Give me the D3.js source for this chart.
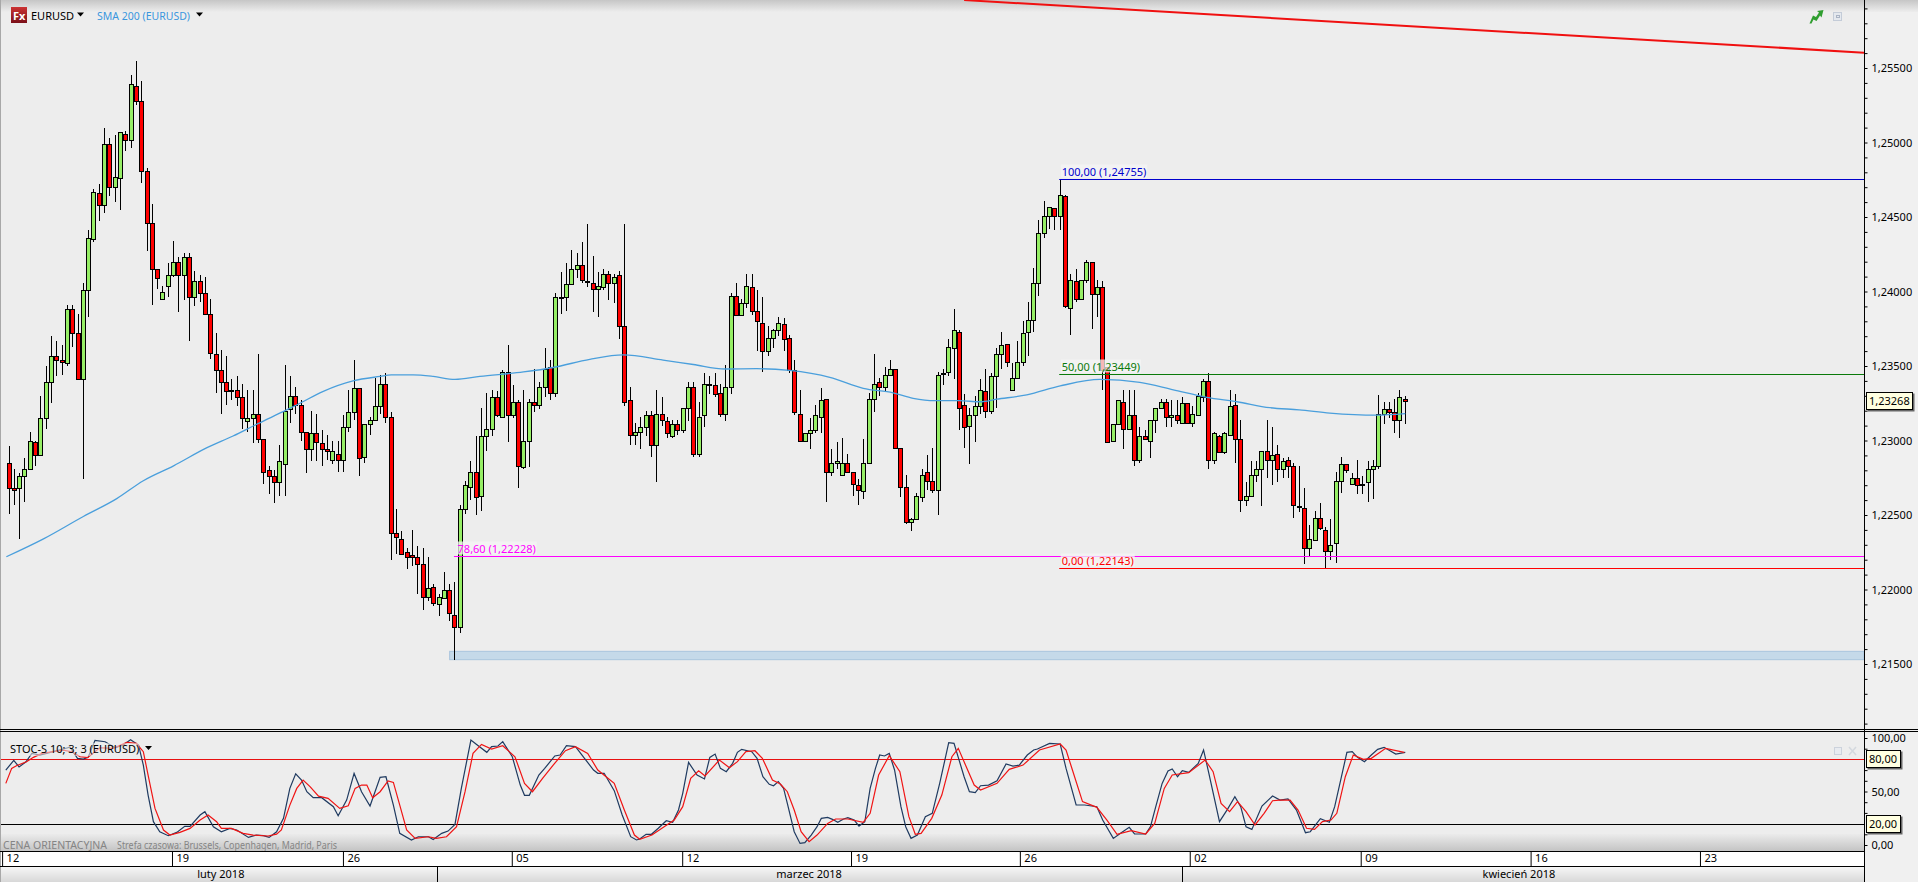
<!DOCTYPE html>
<html><head><meta charset="utf-8">
<script src="https://cdn.jsdelivr.net/npm/d3@7/dist/d3.min.js"></script>
<style>
html,body{margin:0;padding:0;background:#ededed;overflow:hidden}
svg{display:block}
text{font-family:"Noto Sans",Tahoma,sans-serif;font-size:11px}
</style></head><body>
<script>
// Prices are in units of 0.0001 (12150 = 1,21500)
const opens=[12285,12268,12268,12276,12281,12299,12290,12315,12339,12357,12354,12352,12388,12372,12341,12401,12435,12466,12458,12499,12470,12476,12506,12502,12538,12528,12481,12446,12415,12395,12404,12411,12420,12411,12423,12396,12407,12399,12385,12358,12347,12339,12334,12334,12329,12313,12315,12318,12301,12280,12276,12272,12284,12321,12330,12324,12306,12294,12305,12298,12294,12287,12291,12287,12309,12319,12335,12289,12311,12314,12323,12338,12316,12238,12234,12225,12223,12222,12217,12195,12202,12190,12194,12200,12183,12175,12254,12269,12279,12263,12303,12308,12329,12316,12346,12317,12326,12282,12300,12326,12324,12336,12349,12332,12396,12396,12405,12415,12418,12407,12406,12402,12403,12412,12406,12411,12377,12327,12304,12306,12309,12317,12297,12318,12313,12303,12311,12307,12322,12336,12291,12317,12338,12337,12332,12318,12336,12397,12384,12392,12403,12387,12379,12360,12369,12374,12378,12369,12347,12318,12300,12305,12307,12316,12328,12279,12285,12277,12285,12279,12270,12266,12285,12328,12339,12336,12344,12348,12295,12269,12245,12247,12262,12279,12273,12267,12345,12346,12362,12373,12324,12310,12317,12323,12333,12320,12343,12358,12365,12334,12342,12353,12373,12381,12406,12439,12451,12456,12451,12464,12389,12407,12395,12408,12420,12398,12403,12349,12300,12311,12326,12308,12317,12287,12303,12300,12314,12322,12326,12316,12317,12312,12325,12312,12317,12329,12340,12287,12303,12292,12304,12324,12301,12260,12263,12277,12281,12293,12287,12291,12281,12287,12283,12256,12255,12228,12233,12248,12240,12226,12231,12273,12284,12271,12275,12270,12272,12281,12283,12317.5,12321,12319,12313.5,12328];
const highs=[12296,12281,12278,12288,12306,12300,12330,12350,12370,12367,12364,12391,12391,12385,12406,12441,12469,12472,12510,12503,12505,12507,12508,12545,12555,12541,12483,12459,12415,12404,12419,12434,12423,12426,12426,12414,12411,12410,12395,12372,12361,12357,12341,12343,12338,12334,12334,12358,12301,12283,12280,12297,12351,12343,12336,12327,12306,12320,12318,12307,12304,12300,12300,12317,12334,12354,12335,12311,12316,12342,12344,12345,12319,12254,12239,12228,12240,12229,12228,12222,12204,12197,12212,12204,12205,12257,12273,12286,12303,12322,12332,12334,12333,12347,12364,12337,12327,12334,12328,12348,12339,12362,12354,12399,12413,12419,12428,12426,12433,12445,12424,12413,12415,12414,12412,12414,12445,12336,12312,12316,12320,12320,12334,12329,12316,12314,12314,12322,12339,12339,12326,12345,12343,12345,12338,12351,12399,12406,12395,12412,12412,12401,12396,12377,12375,12383,12382,12371,12354,12334,12305,12315,12324,12335,12328,12294,12299,12302,12291,12279,12274,12301,12332,12358,12342,12349,12354,12348,12295,12277,12248,12265,12281,12290,12295,12346,12348,12368,12388,12374,12331,12322,12330,12341,12348,12345,12362,12373,12365,12352,12367,12380,12393,12416,12448,12461,12457,12456,12475,12465,12412,12415,12408,12421,12420,12408,12407,12349,12311,12327,12334,12334,12334,12309,12307,12314,12322,12328,12328,12327,12327,12329,12325,12323,12332,12341,12345,12306,12304,12306,12334,12331,12314,12272,12286,12286,12293,12314,12309,12297,12288,12289,12285,12283,12268,12243,12253,12258,12242,12247,12279,12289,12284,12278,12287,12276,12286,12287,12330.5,12326,12326,12328,12334,12330];
const lows=[12251,12257,12234,12259,12280,12283,12290,12308,12325,12343,12344,12350,12363,12341,12274,12383,12433,12447,12453,12464,12460,12455,12494,12496,12525,12473,12427,12391,12402,12394,12396,12410,12386,12394,12367,12390,12393,12385,12355,12332,12318,12324,12327,12323,12308,12306,12298,12298,12271,12264,12258,12263,12263,12312,12318,12300,12278,12286,12286,12283,12287,12284,12279,12279,12306,12314,12276,12285,12304,12314,12318,12312,12220,12224,12224,12214,12216,12197,12186,12192,12189,12182,12194,12179,12153,12171,12251,12260,12250,12253,12293,12303,12316,12316,12299,12315,12268,12281,12282,12319,12321,12329,12327,12329,12385,12387,12405,12409,12406,12403,12386,12383,12401,12394,12392,12368,12323,12297,12297,12294,12303,12289,12272,12310,12302,12302,12304,12305,12313,12289,12289,12309,12331,12329,12316,12313,12331,12384,12384,12389,12384,12360,12346,12357,12362,12370,12360,12345,12317,12299,12299,12294,12305,12305,12259,12276,12281,12277,12278,12263,12257,12261,12284,12319,12330,12333,12344,12295,12262,12244,12239,12247,12259,12267,12265,12250,12337,12343,12341,12307,12295,12284,12299,12318,12315,12318,12322,12348,12349,12334,12341,12350,12357,12373,12397,12436,12442,12441,12441,12389,12371,12393,12394,12406,12375,12383,12334,12299,12299,12311,12294,12308,12283,12285,12301,12288,12305,12321,12309,12309,12311,12311,12312,12309,12317,12326,12281,12284,12292,12291,12303,12285,12252,12256,12263,12272,12256,12275,12270,12272,12275,12275,12248,12252,12217,12222,12233,12240,12214,12220,12218,12265,12278,12271,12264,12264,12259,12261,12281,12311,12315,12305,12302,12311];
const closes=[12268,12267,12276,12281,12300,12290,12315,12339,12357,12354,12353,12388,12372,12341,12401,12436,12467,12458,12499,12470,12477,12507,12502,12539,12528,12481,12446,12415,12409,12400,12411,12420,12411,12423,12396,12407,12399,12385,12359,12347,12339,12333,12333,12329,12315,12315,12318,12301,12279,12276,12272,12286,12320,12330,12324,12306,12294,12305,12299,12294,12293,12293,12287,12309,12319,12335,12288,12311,12314,12323,12338,12316,12238,12235,12224,12222,12222,12217,12195,12201,12191,12195,12200,12184,12175,12254,12270,12279,12262,12303,12308,12329,12317,12346,12317,12326,12283,12300,12326,12324,12336,12348,12332,12396,12396,12405,12415,12418,12408,12407,12402,12404,12412,12406,12410,12377,12326,12304,12306,12309,12317,12297,12318,12314,12305,12311,12307,12322,12336,12291,12316,12338,12338,12331,12318,12336,12397,12384,12392,12404,12387,12380,12360,12369,12374,12379,12368,12347,12319,12300,12305,12307,12317,12327,12279,12285,12286,12285,12279,12271,12267,12285,12328,12338,12336,12344,12348,12295,12269,12245,12247,12263,12277,12273,12267,12344,12345,12363,12374,12322,12309,12317,12323,12334,12320,12343,12358,12364,12353,12342,12353,12372,12381,12406,12439,12451,12457,12451,12465,12390,12408,12395,12408,12420,12398,12403,12347,12299,12311,12327,12308,12317,12287,12303,12301,12314,12322,12326,12316,12317,12314,12325,12312,12318,12330,12340,12287,12305,12292,12305,12323,12301,12260,12263,12277,12281,12293,12287,12290,12281,12286,12283,12257,12256,12228,12234,12248,12241,12226,12230,12273,12284,12280,12275,12270,12271,12281,12283,12317.5,12321,12319,12313.5,12329,12326.8];

const smaIndex=[-0.5,6.5,14,20.3,25.3,31,37.2,42.2,47,52.3,54.8,59.2,64.8,69.9,72,76.1,79.9,84,88.7,96.9,102.5,109.4,115.7,123.2,128.9,134.9,140.8,147,154.6,160.9,166.5,170.3,174.4,179,182.9,186,191.7,198,205.5,213,219.3,225.6,231.3,237.5,243,248.8,257.6,263];
const smaValues=[12222,12234,12249,12261,12273,12283,12295,12303,12311.5,12320.5,12325,12333,12340,12343,12344,12344,12343,12341,12343,12346,12349,12354.5,12357.4,12354,12351,12348,12348.2,12347,12342.4,12335,12332,12328.3,12326.7,12326.7,12326,12327.7,12330.6,12336.6,12341,12339,12334,12329,12326,12322,12320.6,12318.4,12317,12318];

const kIndex=[-0.6,0.9,1.9,3.2,4.3,5.8,7.1,8.3,10.2,11.5,12.9,14,14.9,16.2,18.1,20,21.5,22.9,24.4,25.3,26.2,27.2,28.4,30,31.6,33.1,34.1,36,36.9,38.5,40,41.6,42.9,45.1,46.6,47.9,49,50.4,51.7,52.9,54,55.1,56.1,57.3,58.9,61.1,62,63.6,65,66.4,68,69.9,71,72.4,73.6,75.8,77.1,79,79.9,81.5,82.7,84,85.2,87,88.2,90,90.9,92.1,93,94.8,96.3,97.1,98,99.8,100.9,102.8,103.8,105,106.7,108.4,110.1,110.9,112.1,114,115.5,117.1,118.2,118.8,120,121,122.3,123.8,125,126.1,126.9,128,129.6,131,132,133,134,135.1,136.3,137.2,138,139.9,140.9,142,143.2,144,144.9,145.9,146.6,147.9,149,149.9,151.1,152.2,153,154.2,155.1,156.1,157.2,158,159.2,160.1,161.2,162.2,163.2,164,164.9,165.8,166.8,168,168.9,169.9,171.1,172.6,173.9,175.3,177,178,179.9,180.9,182,183,184.5,186.1,187.8,189.1,190.3,191.8,193,193.7,196,198,199.1,201,202.6,204.9,206,208,209.5,211,212,214.1,215,216,217.2,218.3,219.1,220.1,221,222.2,224,225,226,228,229.5,230.9,232,233,234.1,236,238,239.4,240.9,242.5,244.2,245.1,247,248.7,249.7,250.9,252,253,254,255.3,256.6,257.8,259,261.2,263];
const kValues=[70,79.1,72.9,77.8,85.6,84.1,85.6,87.2,89.7,91.5,81,80.3,81.9,97.8,96.5,90.9,93.4,98.4,93.4,74.7,46.7,21.8,12.4,8.7,11.8,17.4,17.4,28,31.1,17.1,12.4,15.5,14,7.1,9.3,8.7,7.1,12.4,24.9,52.9,66.6,60.7,49.8,44.2,44.2,35.8,27.4,42,66.9,49.8,36.4,63.2,63.8,37.3,10.9,4.6,7.7,7.7,5.2,10.9,13,19.3,52.9,98.1,93.4,86.6,91.9,92.5,96.6,82.5,56,46.4,46.4,65.4,71.6,83.2,84.1,92.8,91.9,81,70.1,67,67,50.8,28,7.8,4.7,5.6,10,10,15.6,22.7,21.2,32.7,48.3,77.2,65.4,61.7,81.9,85,71.6,68.5,76.3,86.6,89.4,87.2,81,63.8,56.7,55.4,59.2,52.9,38.9,12.4,1.5,2.2,9.3,17.1,24.9,25.8,24,21.2,24.3,25.5,23.3,17.7,21.8,52.9,71.6,84.1,83.2,85.6,70.1,35.8,17.1,6.2,9.3,26.5,29.6,57.6,95.6,95,63.8,49.8,48.9,55.4,56,60.1,75.7,73.8,74.7,84.1,88.8,89.7,95,94.4,71.6,37.4,37.4,35.8,23.3,6.2,11.5,16.5,10.3,10.3,17.1,35.8,57.6,69.1,71,63.8,69.4,67.9,76.3,88.8,67,21.8,33.3,45.1,35.8,17.1,14.6,36.4,45.8,42,43,32.7,11.5,12.4,24.6,21.2,35.8,62.3,86.6,87.2,81.9,77.9,84.1,89.4,91.3,85,86.6];

const dIndex=[-0.6,0.5,1.4,3.3,4.6,6.2,8.3,10.2,11.8,13.4,14.8,17.1,19.6,22.2,24,25.3,26.2,27.5,29.1,30.3,32.2,34.1,36,37.5,39.1,40,41.9,44.1,46,48.8,50.4,51.3,52.9,54.2,55.4,56.7,58.3,60.1,62.3,63.9,65.2,66.4,67.4,68.5,69.9,71.4,72.4,73.6,74.9,76.5,79,80.5,82.4,84.3,85.9,87.4,89,90.9,93,95.3,97.1,98.6,100.5,102.5,104.8,106.7,109,110.9,114,115.9,117.8,118.8,121.1,123.4,125.3,126.9,128.4,129.9,131.1,133.8,135.7,137.2,138.8,140.5,141.9,143.8,145.3,146.6,147.9,149.2,150.7,152.2,154.2,155.7,158,160.9,162.2,163.8,165.8,167.8,169.5,170.7,171.8,173.8,175.7,177.6,178.8,180.3,181.8,183,186.1,188.4,191,194.1,198,199.1,200.3,202.2,204.9,206.8,208.7,211.4,214.1,215.8,217.6,219.1,222.2,225.3,226.8,228.3,229.9,231.4,233,234.7,236.4,238,239.3,241.3,242.8,244.4,245.9,247.4,249,250.1,251.7,253.2,255.1,256.6,259.3,262.8];
const dValues=[57.6,71.6,74.1,77.8,81.9,85.6,87.2,88.7,87.2,82.5,81.6,90.9,90.3,95.9,95,87.2,65.4,34.2,14,9.3,11.8,15.5,23.3,28,21.8,15.5,15.5,10.9,9.3,8.4,10.2,14,37.3,52.9,60.7,54.5,45.7,43.6,34.2,36.7,52.9,56,56,44.2,49.8,59.8,58.5,37.3,14,6.2,7.7,6.2,7.7,17.1,49.8,85.6,94,89.7,92.8,82.5,57.6,49.8,62.3,74.7,88.1,91.9,85.6,70.1,57.6,32.7,9.3,5.3,9.3,17.1,23.3,35.8,62.3,69.4,64.5,79.4,72.3,77.9,87.2,88.1,81,60.7,57,49.8,32.7,12.4,3.1,9.3,20.2,24.3,24.3,21.2,29.6,65.4,83.5,68.5,26.5,10,10.9,24.9,46.7,82.5,90.3,73.2,56,51.4,57.6,70.7,74.7,88.8,94.4,88.8,70.1,40.5,35.2,23.3,10,13.4,10.3,20.2,52.9,65.4,67.6,79.4,68.5,38.9,31.1,40.5,31.1,18.7,29.6,41.4,42,42,32.7,15.6,14.6,21.8,23.3,29.6,63.8,84.1,80,81,90.3,86.6];

const priceMajor=[12150,12200,12250,12300,12350,12400,12450,12500,12550];
const priceMinor=[12110,12120,12130,12140,12160,12170,12180,12190,12210,12220,12230,12240,12260,12270,12280,12290,12310,12320,12330,12340,12360,12370,12380,12390,12410,12420,12430,12440,12460,12470,12480,12490,12510,12520,12530,12540,12560,12570,12580,12590];
const weekIndex=[-1.3,30.7,62.9,94.7,126.8,158.6,190.4,222.4,254.6,286.6,318.5];
const weekLabels=["12","19","26","05","12","19","26","02","09","16","23"];
const monthBreaks=[80.7,220.9];
const monthCenters=[39.9,150.7,284.4];
const monthLabels=["luty 2018","marzec 2018","kwiecień 2018"];
const stochMajor=[100,50,0];
const stochMinor=[90,70,60,40,30,10];

const fibLevels=[
 {label:"100,00 (1,24755)",price:12475.5,color:"#0000cc",from:198,lx:198.1},
 {label:"50,00 (1,23449)",price:12344.9,color:"#0a7a0a",from:198,lx:198.1},
 {label:"78,60 (1,22228)",price:12222.8,color:"#ff00ff",from:84,lx:84.3},
 {label:"0,00 (1,22143)",price:12214.3,color:"#ff0000",from:198,lx:198.1}];
const trendIdx=[179.9,349.4], trendPrice=[12595.6,12560.3];
const zoneIdx=83, zoneTop=12158.5, zoneBottom=12152.9;
const lastPrice=12326.8;

const W=1918,H=882,axisX=1864,paneBottom=729;
const x=d3.scaleLinear().domain([0,263]).range([9,1405.3]);
const y=d3.scaleLinear().domain([12150,12550]).range([664,68]);
const s=d3.scaleLinear().domain([0,100]).range([845,738]);
const fmtP=v=>(v/1e4).toFixed(5).replace(".",",");
const fmtS=v=>v.toFixed(2).replace(".",",");

const svg=d3.select("body").append("svg").attr("width",W).attr("height",H);
const defs=svg.append("defs");
function grad(id,stops){const g=defs.append("linearGradient").attr("id",id).attr("x1",0).attr("y1",0).attr("x2",0).attr("y2",1);
 stops.forEach(a=>g.append("stop").attr("offset",a[0]).attr("stop-color",a[1]));}
grad("gTop",[[0,"#c6c6c6"],[1,"#ededed"]]);
grad("gBot",[[0,"#ebebeb"],[1,"#c4c4c4"]]);
grad("gMonth",[[0,"#f6f6f6"],[1,"#d8d8d8"]]);
grad("gFx",[[0,"#c33"],[1,"#7a0f18"]]);
defs.append("clipPath").attr("id","cMain").append("rect").attr("width",axisX).attr("height",paneBottom);
const shadow=defs.append("filter").attr("id","sh").attr("x","-10%").attr("y","-10%").attr("width","130%").attr("height","140%");
shadow.append("feDropShadow").attr("dx",1.5).attr("dy",1.5).attr("stdDeviation",0.6).attr("flood-color","#666");

svg.append("rect").attr("width",W).attr("height",H).attr("fill","#ededed");
svg.append("rect").attr("width",W).attr("height",12).attr("fill","url(#gTop)");
svg.append("rect").attr("x",axisX).attr("width",W-axisX).attr("y",12).attr("height",H-12).attr("fill","#f0f0f0");
svg.append("rect").attr("y",834).attr("width",axisX).attr("height",17).attr("fill","url(#gBot)");
svg.append("rect").attr("x",0).attr("width",1).attr("height",H).attr("fill","#a8a8a8");

const main=svg.append("g").attr("clip-path","url(#cMain)");
// zone
main.append("rect").attr("x",x(zoneIdx)).attr("y",y(zoneTop)).attr("width",axisX-x(zoneIdx)).attr("height",y(zoneBottom)-y(zoneTop))
 .attr("fill","#c5d9e9").attr("stroke","#a9c5de").attr("stroke-width",1);
// trend
main.append("line").attr("x1",x(trendIdx[0])).attr("y1",y(trendPrice[0])).attr("x2",x(trendIdx[1])).attr("y2",y(trendPrice[1]))
 .attr("stroke","#f01010").attr("stroke-width",2);
// candles
const candles=d3.range(opens.length);
const cx=i=>Math.floor(x(i))+0.5;
main.append("g").selectAll("line").data(candles).join("line")
 .attr("x1",cx).attr("x2",cx).attr("y1",i=>Math.round(y(highs[i]))).attr("y2",i=>Math.round(y(lows[i])))
 .attr("stroke","#000").attr("stroke-width",1);
main.append("g").selectAll("rect").data(candles).join("rect")
 .attr("x",i=>cx(i)-2).attr("width",4)
 .attr("y",i=>Math.round(y(Math.max(opens[i],closes[i])))+0.5)
 .attr("height",i=>Math.max(1,Math.round(y(Math.min(opens[i],closes[i])))-Math.round(y(Math.max(opens[i],closes[i])))))
 .attr("fill",i=>closes[i]>=opens[i]?"#96ee66":"#ff0000")
 .attr("stroke","#000").attr("stroke-width",1);
// SMA
main.append("path").datum(smaIndex).attr("fill","none").attr("stroke","#4a9fdc").attr("stroke-width",1.3)
 .attr("d",d3.line().x(d=>x(d)).y((d,i)=>y(smaValues[i])).curve(d3.curveMonotoneX));
// fib lines
const fibLabels=svg.append("g");
fibLevels.forEach(f=>{
 const yy=Math.round(y(f.price))+0.5;
 main.append("line").attr("x1",x(f.from)-1).attr("x2",axisX).attr("y1",yy).attr("y2",yy).attr("stroke",f.color).attr("stroke-width",1);
 const bg=fibLabels.append("rect");
 const t=fibLabels.append("text").attr("x",x(f.lx)+1).attr("y",yy-4).attr("fill",f.color).text(f.label);
 const b=t.node().getBBox();
 bg.attr("x",b.x-1).attr("y",yy-15).attr("width",b.width+2).attr("height",13).attr("fill","#f4f4f4").attr("fill-opacity",.75);
});

// stochastic pane
const sg=svg.append("g");
const sLine=(yy,c)=>sg.append("line").attr("x1",1).attr("x2",axisX).attr("y1",Math.round(s(yy))+.5).attr("y2",Math.round(s(yy))+.5).attr("stroke",c).attr("stroke-width",1);
sLine(80,"#e81010");sLine(20,"#000");
sg.append("path").datum(kIndex).attr("fill","none").attr("stroke","#1f3a60").attr("stroke-width",1.2)
 .attr("d",d3.line().x(d=>x(d)).y((d,i)=>s(kValues[i])));
sg.append("path").datum(dIndex).attr("fill","none").attr("stroke","#f01414").attr("stroke-width",1.2)
 .attr("d",d3.line().x(d=>x(d)).y((d,i)=>s(dValues[i])));

// separators
svg.append("line").attr("x1",0).attr("x2",W).attr("y1",729.5).attr("y2",729.5).attr("stroke","#000");
svg.append("line").attr("x1",0).attr("x2",W).attr("y1",731.5).attr("y2",731.5).attr("stroke","#000");

// Legends
const icon=svg.append("g");
icon.append("rect").attr("x",11).attr("y",7).attr("width",16).attr("height",16).attr("fill","url(#gFx)");
icon.append("text").attr("x",13).attr("y",20).attr("fill","#fff").attr("font-weight","bold").text("Fx");
svg.append("text").attr("x",31).attr("y",20).attr("fill","#000").text("EURUSD");
const tri=(tx,ty)=>svg.append("path").attr("d",`M${tx-3},${ty-2}h7l-3.5,4z`).attr("fill","#000");
tri(80,14.5);
svg.append("text").attr("x",97).attr("y",20).attr("fill","#3a96dd").attr("textLength",93).attr("lengthAdjust","spacingAndGlyphs").text("SMA 200 (EURUSD)");
tri(199,14.5);
const st=svg.append("text").attr("x",10).attr("y",753).attr("fill","#000").text("STOC-S 10; 3; 3 (EURUSD)");
const stb=st.node().getBBox();
svg.insert("rect",function(){return st.node()}).attr("x",stb.x).attr("y",743).attr("width",stb.width).attr("height",13).attr("fill","#ededed").attr("fill-opacity",.55);
tri(148,748);
svg.append("text").attr("x",3).attr("y",849).attr("fill","#858585").attr("textLength",104).attr("lengthAdjust","spacingAndGlyphs").text("CENA ORIENTACYJNA");
svg.append("text").attr("x",117).attr("y",849).attr("fill","#858585").attr("textLength",220).attr("lengthAdjust","spacingAndGlyphs").text("Strefa czasowa: Brussels, Copenhagen, Madrid, Paris");

// top-right & pane icons
svg.append("path").attr("d","M1809.5,23.5l3.5,-8l3,1.5l3,-4.5l-2,-1.5l6.5,-1l-2,7.5l-1.5,-2l-3.5,5.5l-3,-1.5l-2,4z").attr("fill","#2f9e2f");
svg.append("rect").attr("x",1833.5).attr("y",12.5).attr("width",8).attr("height",8).attr("fill","#e4e8ee").attr("stroke","#c4ccd8");
svg.append("rect").attr("x",1836.5).attr("y",15.5).attr("width",3).attr("height",2).attr("fill","none").attr("stroke","#aab4c4");
svg.append("rect").attr("x",1834.5).attr("y",747.5).attr("width",7).attr("height",7).attr("fill","#e8ebf0").attr("stroke","#ccd2dc");
svg.append("path").attr("d","M1849,747l7,8M1856,747l-7,8").attr("stroke","#d4d8de").attr("stroke-width",1.5);

// Price axis
const ax=svg.append("g").attr("transform",`translate(${axisX+.5},0)`)
 .call(d3.axisRight(y).tickValues(priceMajor.concat(priceMinor)).tickSize(3).tickPadding(4)
  .tickFormat(v=>priceMajor.includes(v)?fmtP(v):""));
ax.select(".domain").remove();
ax.selectAll("line").attr("stroke","#000");
ax.selectAll("text").attr("fill","#000").attr("font-family",null).attr("font-size",null);
ax.selectAll(".tick").filter(v=>y(v)>725).remove();
// stochastic axis
const as=svg.append("g").attr("transform",`translate(${axisX+.5},0)`)
 .call(d3.axisRight(s).tickValues(stochMajor.concat(stochMinor)).tickSize(3).tickPadding(4)
  .tickFormat(v=>stochMajor.includes(v)?fmtS(v):""));
as.select(".domain").remove();
as.selectAll("line").attr("stroke","#000");
as.selectAll("text").attr("fill","#000").attr("font-family",null).attr("font-size",null);
svg.append("line").attr("x1",axisX+.5).attr("x2",axisX+.5).attr("y1",0).attr("y2",H).attr("stroke","#000");

// Date axis
svg.append("rect").attr("x",1).attr("y",851).attr("width",axisX-1).attr("height",15).attr("fill","#fff");
svg.append("rect").attr("x",1).attr("y",867).attr("width",axisX-1).attr("height",15).attr("fill","url(#gMonth)");
const ad=svg.append("g").attr("transform","translate(0,851)")
 .call(d3.axisBottom(x).tickValues(weekIndex).tickSize(15).tickPadding(0).tickFormat((v,i)=>weekLabels[i]));
ad.select(".domain").remove();
ad.selectAll("line").attr("stroke","#000");
ad.selectAll("text").attr("fill","#000").attr("font-family",null).attr("font-size",null)
 .attr("text-anchor","start").attr("x",4).attr("y",3).attr("dy","0.71em");
svg.append("line").attr("x1",0).attr("x2",axisX).attr("y1",851.5).attr("y2",851.5).attr("stroke","#000");
svg.append("line").attr("x1",0).attr("x2",axisX).attr("y1",866.5).attr("y2",866.5).attr("stroke","#000");
svg.append("g").selectAll("line").data(monthBreaks).join("line")
 .attr("x1",d=>Math.round(x(d))+.5).attr("x2",d=>Math.round(x(d))+.5).attr("y1",867).attr("y2",882).attr("stroke","#000");
svg.append("g").selectAll("text").data(monthCenters).join("text")
 .attr("x",d=>x(d)).attr("y",878).attr("text-anchor","middle").attr("fill","#000").text((d,i)=>monthLabels[i]);

// Value tags
function tag(yy,w,t){
 const g=svg.append("g");
 g.append("rect").attr("x",1866.5).attr("y",Math.round(yy)-8.5).attr("width",w).attr("height",17)
  .attr("fill","#ffffe1").attr("stroke","#000").attr("filter","url(#sh)");
 g.append("text").attr("x",1869).attr("y",Math.round(yy)+4).attr("fill","#000").text(t);
}
tag(y(lastPrice),46,fmtP(lastPrice));
tag(s(80),34,fmtS(80));
tag(s(20),34,fmtS(20));
</script>
</body></html>
